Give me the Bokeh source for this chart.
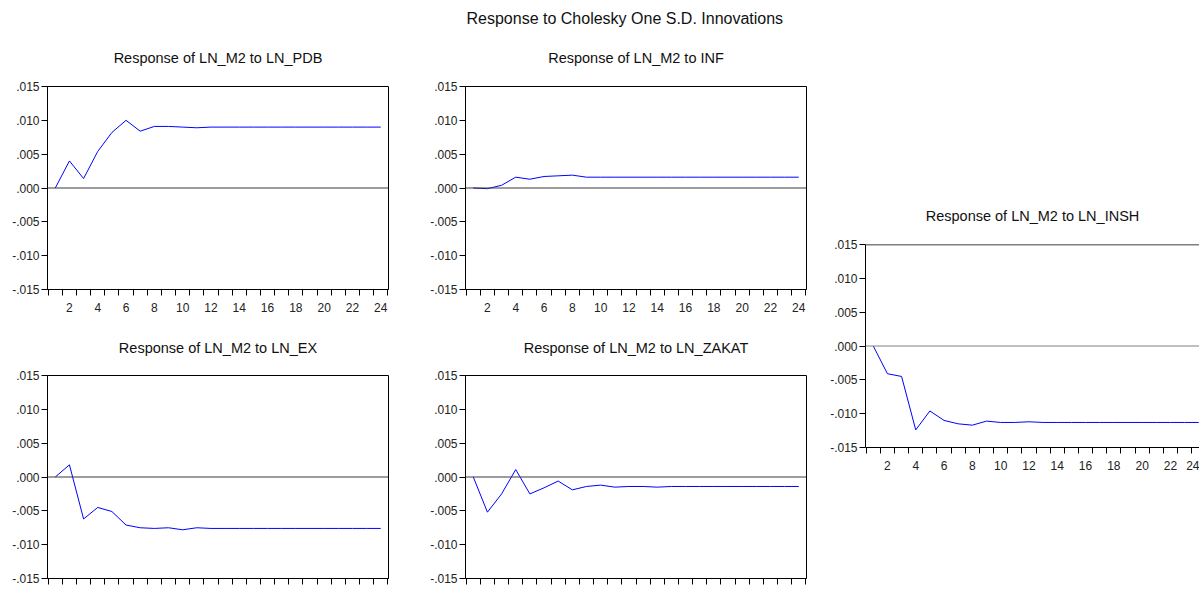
from bokeh.plotting import figure
from bokeh.models import (FixedTicker, CustomJSTickFormatter, Span, Title, Spacer, Range1d)
from bokeh.layouts import row, column
from bokeh.embed import file_html
from bokeh.resources import INLINE

# ---------------- data ----------------
periods = list(range(1, 25))

resp_pdb = [0.0000, 0.0040, 0.0014, 0.0054, 0.0082, 0.0100, 0.0084, 0.0091,
            0.0091, 0.0090, 0.0089, 0.0090, 0.0090, 0.0090, 0.0090, 0.0090,
            0.0090, 0.0090, 0.0090, 0.0090, 0.0090, 0.0090, 0.0090, 0.0090]
resp_inf = [0.0000, -0.0001, 0.0004, 0.0016, 0.0013, 0.0017, 0.0018, 0.0019,
            0.0016, 0.0016, 0.0016, 0.0016, 0.0016, 0.0016, 0.0016, 0.0016,
            0.0016, 0.0016, 0.0016, 0.0016, 0.0016, 0.0016, 0.0016, 0.0016]
resp_ex = [0.0000, 0.0018, -0.0062, -0.0045, -0.0051, -0.0071, -0.0075, -0.0076,
           -0.0075, -0.0078, -0.0075, -0.0076, -0.0076, -0.0076, -0.0076, -0.0076,
           -0.0076, -0.0076, -0.0076, -0.0076, -0.0076, -0.0076, -0.0076, -0.0076]
resp_zakat = [0.0000, -0.0052, -0.0025, 0.0011, -0.0025, -0.0016, -0.0006, -0.0019,
              -0.0014, -0.0012, -0.0015, -0.0014, -0.0014, -0.0015, -0.0014, -0.0014,
              -0.0014, -0.0014, -0.0014, -0.0014, -0.0014, -0.0014, -0.0014, -0.0014]
resp_insh = [0.0000, -0.0041, -0.0045, -0.0124, -0.0096, -0.0110, -0.0115, -0.0117,
             -0.0111, -0.0113, -0.0113, -0.0112, -0.0113, -0.0113, -0.0113, -0.0113,
             -0.0113, -0.0113, -0.0113, -0.0113, -0.0113, -0.0113, -0.0113, -0.0113]

y_ticks = [-0.015, -0.010, -0.005, 0.0, 0.005, 0.010, 0.015]
y_tick_labels = ["-.015", "-.010", "-.005", ".000", ".005", ".010", ".015"]
x_label_ticks = [2, 4, 6, 8, 10, 12, 14, 16, 18, 20, 22, 24]
x_minor_ticks = [0.5, 1.5, 2.5, 3.5, 4.5, 5.5, 6.5, 7.5, 8.5, 9.5, 10.5, 11.5,
                 12.5, 13.5, 14.5, 15.5, 16.5, 17.5, 18.5, 19.5, 20.5, 21.5, 22.5,
                 23.5, 24.5]

main_title = "Response to Cholesky One S.D. Innovations"
titles = ["Response of LN_M2 to LN_PDB", "Response of LN_M2 to INF",
          "Response of LN_M2 to LN_EX", "Response of LN_M2 to LN_ZAKAT",
          "Response of LN_M2 to LN_INSH"]

FONT = "Liberation Sans"
X_START = 0.45
PX_PER_UNIT = 14.15


def make_panel(title, values, left, right, top, bottom, title_standoff, frame_w=341,
               show_xlabels=True, zero_color="#3a3a3a", outline=True):
    x_end = X_START + frame_w / PX_PER_UNIT
    p = figure(frame_width=frame_w, frame_height=203,
               x_range=Range1d(X_START, x_end), y_range=Range1d(-0.015, 0.015),
               output_backend="svg", toolbar_location=None, title=None,
               min_border_left=left, min_border_right=right,
               min_border_top=top, min_border_bottom=bottom,
               background_fill_color="white", border_fill_color="white")
    p.grid.visible = False
    p.outline_line_color = "black" if outline else None
    p.outline_line_width = 1

    xa = p.xaxis[0]
    xa.ticker = FixedTicker(ticks=x_label_ticks if show_xlabels else [],
                            minor_ticks=x_minor_ticks)
    xa.major_tick_out = 0
    xa.major_tick_in = 0
    xa.minor_tick_out = 6
    xa.minor_tick_in = 0
    xa.minor_tick_line_color = "black"
    xa.axis_line_color = "black"
    xa.major_label_standoff = 7
    xa.major_label_text_font = FONT
    xa.major_label_text_font_size = "12px"
    xa.major_label_text_color = "#222222"

    ya = p.yaxis[0]
    ya.ticker = FixedTicker(ticks=y_ticks, minor_ticks=[])
    ya.formatter = CustomJSTickFormatter(args=dict(vals=y_ticks, labs=y_tick_labels), code="""
        let best = 0;
        for (let i = 0; i < vals.length; i++) {
            if (Math.abs(vals[i] - tick) < Math.abs(vals[best] - tick)) best = i;
        }
        return labs[best];
    """)
    ya.major_tick_out = 6
    ya.major_tick_in = 0
    ya.minor_tick_out = 0
    ya.major_tick_line_color = "black"
    ya.axis_line_color = "black"
    ya.major_label_standoff = 2
    ya.major_label_text_font = FONT
    ya.major_label_text_font_size = "12px"
    ya.major_label_text_color = "#222222"

    p.add_layout(Span(location=0, dimension="width", line_color=zero_color, line_width=1))
    if not outline:
        # top border of the frame (the right border lies outside the page)
        p.add_layout(Span(location=y_ticks[-1], dimension="width",
                          line_color="black", line_width=1.5))
    p.line(periods, values, line_color="#0000FF", line_width=1)

    p.add_layout(Title(text=title, align="center", text_font=FONT, text_font_size="14.5px",
                       text_font_style="normal", text_color="#111111",
                       standoff=title_standoff), "above")
    return p


p1 = make_panel(titles[0], resp_pdb, left=47, right=10, top=86, bottom=28, title_standoff=42)
p2 = make_panel(titles[1], resp_inf, left=67, right=10, top=86, bottom=28, title_standoff=42)
p2.add_layout(Title(text=main_title, align="left", offset=1, text_font=FONT,
                    text_font_size="16px", text_font_style="normal",
                    text_color="#111111", standoff=0), "above")
p4 = make_panel(titles[2], resp_ex, left=47, right=10, top=0, bottom=15,
                title_standoff=40, show_xlabels=False)
p5 = make_panel(titles[3], resp_zakat, left=67, right=10, top=0, bottom=15,
                title_standoff=40, show_xlabels=False)
p6 = make_panel(titles[4], resp_insh, left=49, right=0, top=0, bottom=30,
                title_standoff=42, frame_w=334, zero_color="#808080", outline=False)

layout = row(column(p1, p4), column(p2, p5),
             column(Spacer(width=383, height=184), p6))

open("out.html", "w").write(file_html(layout, INLINE))
